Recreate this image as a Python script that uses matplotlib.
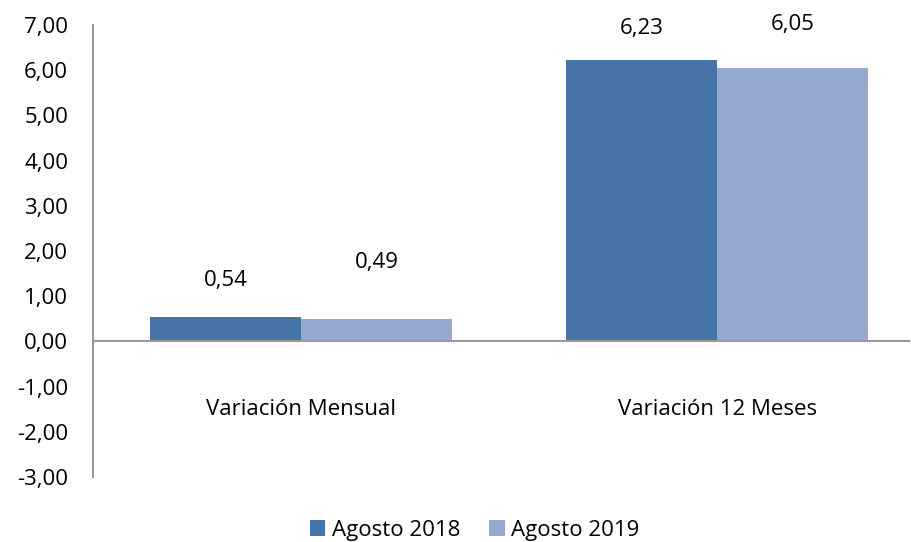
import matplotlib.pyplot as plt
import numpy as np

categories = ["Variación Mensual", "Variación 12 Meses"]
series_names = ["Agosto 2018", "Agosto 2019"]
agosto_2018 = [0.54, 6.23]
agosto_2019 = [0.49, 6.05]
colors = ["#4674A8", "#95A9D0"]
# label offsets in points above bar tops (as placed in the original)
label_offsets = [[19, 15], [33, 24]]

plt.rcParams['font.family'] = ['Open Sans', 'DejaVu Sans']

fig = plt.figure(figsize=(9.12, 5.42), dpi=100)
ax = fig.add_axes([0.102, 0.120, 0.896, 0.834])

x = np.arange(len(categories))
w = 0.363
for i, (vals, name) in enumerate(zip([agosto_2018, agosto_2019], series_names)):
    pos = x + (i - 0.5) * w
    ax.bar(pos, vals, width=w, color=colors[i], label=name, zorder=2)
    for j, v in enumerate(vals):
        ax.annotate(f"{v:.2f}".replace(".", ","), (pos[j], v),
                    xytext=(0, label_offsets[i][j]), textcoords="offset points",
                    ha="center", va="bottom", fontsize=16)

ax.set_xlim(-0.5, 1.464)
ax.set_ylim(-3, 7)
ax.set_yticks(range(-3, 8))
ax.set_yticklabels([f"{t:.2f}".replace(".", ",") for t in range(-3, 8)], fontsize=16)
ax.tick_params(axis="y", length=0, pad=18)
ax.set_xticks([])
ax.axhline(0, color="#999999", lw=1.5, zorder=3)
for s in ["top", "right", "bottom"]:
    ax.spines[s].set_visible(False)
ax.spines["left"].set_color("#999999")
ax.spines["left"].set_linewidth(1.5)

for j, c in enumerate(categories):
    ax.text(x[j], -1.5, c, ha="center", va="center", fontsize=16)

ax.legend(loc="lower center", bbox_to_anchor=(0.467, -0.185), ncol=2, frameon=False,
          fontsize=16, handlelength=0.7, handleheight=0.7, handletextpad=0.3,
          columnspacing=1.3)

fig.savefig("out.png", dpi=100)
